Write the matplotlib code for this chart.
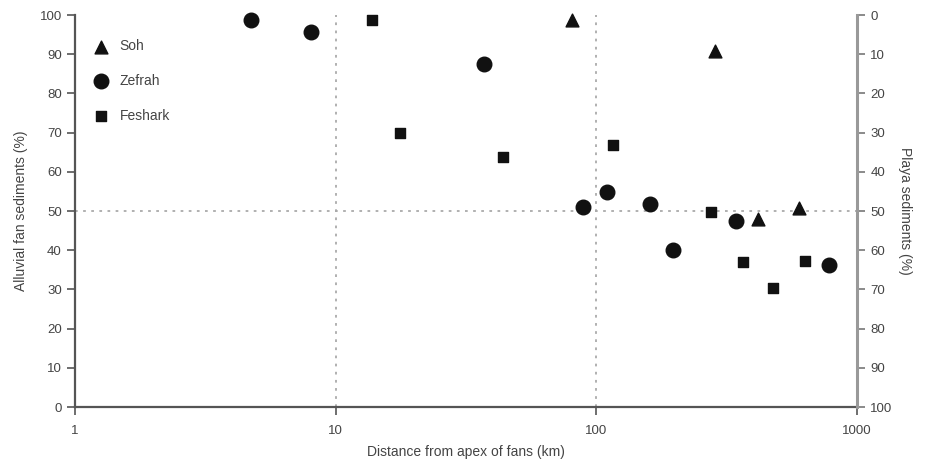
import numpy as np
import matplotlib.pyplot as plt

# ---- data ----
soh_x = [81, 285, 417, 597]
soh_y = [98.8, 90.8, 48, 50.8]

zefrah_x = [4.73, 8.04, 37.1, 88.9, 110, 161, 197, 343, 780]
zefrah_y = [98.7, 95.8, 87.5, 51, 54.8, 51.8, 40, 47.5, 36.3]

feshark_x = [13.8, 17.6, 43.7, 115.5, 275, 365, 475, 631]
feshark_y = [98.7, 69.9, 63.8, 66.9, 49.7, 37, 30.4, 37.3]

y_ticks = list(range(0, 101, 10))
x_ticks = [1, 10, 100, 1000]

plt.rcParams['font.family'] = ['Liberation Sans Narrow', 'Liberation Sans', 'DejaVu Sans']
text_col = '#444444'
spine_col = '#555555'

fig = plt.figure(figsize=(9.26, 4.70), dpi=100)
ax = fig.add_axes([0.081, 0.134, 0.8445, 0.834])

ax.scatter(soh_x, soh_y, marker='^', s=85, color='#111111', label='Soh', zorder=3, clip_on=False)
ax.scatter(zefrah_x, zefrah_y, marker='o', s=110, color='#111111', label='Zefrah', zorder=3, clip_on=False)
ax.scatter(feshark_x, feshark_y, marker='s', s=62, color='#111111', label='Feshark', zorder=3, clip_on=False)

# reference lines
for xv in [10, 100]:
    ax.axvline(xv, color='#aaaaaa', linestyle=(0, (1.5, 3)), linewidth=1.3, zorder=1)
ax.axhline(50, color='#aaaaaa', linestyle=(0, (1.5, 3)), linewidth=1.3, zorder=1)

ax.set_xscale('log')
ax.set_xlim(1, 1000)
ax.set_ylim(0, 100)
ax.set_xticks(x_ticks)
ax.set_xticklabels([str(v) for v in x_ticks])
ax.xaxis.set_minor_locator(plt.NullLocator())
ax.set_yticks(y_ticks)

for s in ['top', 'right']:
    ax.spines[s].set_visible(False)
for s in ['left', 'bottom']:
    ax.spines[s].set_color(spine_col)
    ax.spines[s].set_linewidth(1.6)
ax.tick_params(axis='both', colors=spine_col, labelcolor=text_col, labelsize=9.5,
               length=6, width=1.2)
ax.tick_params(axis='x', pad=7)

ax.set_xlabel('Distance from apex of fans (km)', fontsize=10, color=text_col, labelpad=6)
ax.set_ylabel('Alluvial fan sediments (%)', fontsize=10, color=text_col, labelpad=8)

ax2 = ax.twinx()
ax2.set_ylim(100, 0)
ax2.set_yticks(y_ticks)
for s in ['top', 'left', 'bottom']:
    ax2.spines[s].set_visible(False)
ax2.spines['right'].set_color('#999999')
ax2.spines['right'].set_linewidth(2.2)
ax2.tick_params(axis='y', colors='#777777', labelcolor=text_col, labelsize=9.5,
                length=6, width=1.2)
ax2.set_ylabel('Playa sediments (%)', fontsize=10, color=text_col, rotation=270, labelpad=14)

ax.legend(loc='upper left', bbox_to_anchor=(0.0, 0.97), frameon=False, fontsize=10,
          labelspacing=1.5, handletextpad=0.3, labelcolor=text_col)

fig.savefig('out.png', dpi=100)
